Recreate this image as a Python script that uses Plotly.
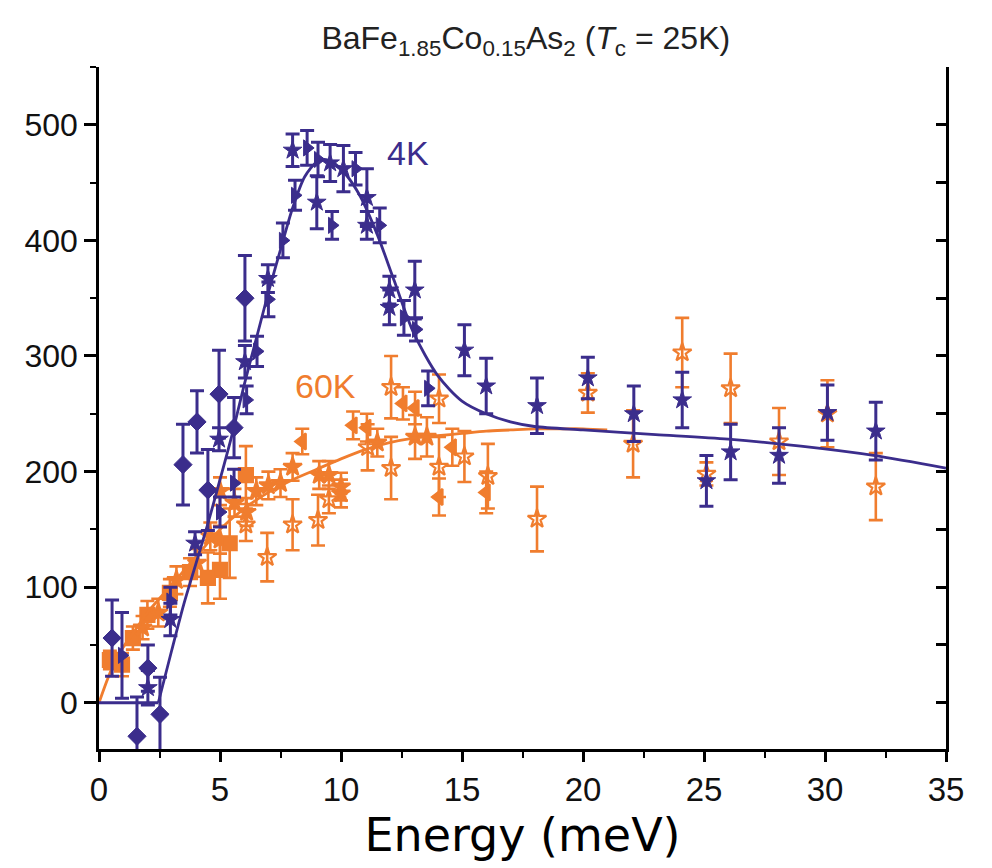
import plotly.graph_objects as go

BLUE = "#3b2d8c"
ORANGE = "#f07d2e"

# ---- 4K data (energy meV, intensity, error, marker) ----
k4_x = [0.54, 0.95, 1.57, 2.02, 2.02, 2.52, 2.95, 2.95, 3.47, 3.97, 4.05, 4.5, 4.96, 4.96, 5.0,
        5.58, 5.58, 6.03, 6.03, 6.1, 6.53, 6.98, 7.0, 7.6, 8.0, 8.1, 8.6, 9.0, 9.05, 9.55,
        9.63, 10.1, 10.6, 11.07, 11.07, 11.6, 12.0, 12.0, 12.6, 13.05, 13.1, 13.6, 15.1, 16.0,
        18.1, 20.2, 22.1, 24.1, 25.1, 26.1, 28.1, 30.1, 32.1]
k4_y = [56, 41, -29, 30, 13, -10, 88, 72, 206, 138, 243, 184, 267, 228, 165,
        238, 190, 350, 295, 262, 304, 367, 349, 400, 478, 439, 480, 433, 470, 467,
        413, 462, 462, 437, 413, 413, 357, 342, 333, 357, 323, 272, 305, 274,
        257, 281, 250, 262, 192, 217, 214, 251, 235]
k4_err = [33, 37, 34, 20, 15, 32, 12, 14, 35, 10, 27, 35, 38, 10, 13,
          26, 12, 37, 14, 12, 13, 12, 15, 15, 14, 13, 15, 23, 15, 16,
          12, 20, 14, 25, 12, 15, 12, 15, 15, 25, 10, 15, 22, 24,
          24, 18, 24, 24, 22, 24, 24, 24, 25]
k4_sym = ["diamond", "triangle-right", "diamond", "diamond", "star", "diamond", "triangle-right", "star",
          "diamond", "star", "diamond", "diamond", "diamond", "star", "triangle-right",
          "diamond", "triangle-right", "diamond", "star", "triangle-right", "triangle-right", "star",
          "triangle-right", "triangle-right", "star", "triangle-right", "triangle-right", "star",
          "triangle-right", "star", "triangle-right", "star", "triangle-right", "star", "star",
          "triangle-right", "star", "star", "triangle-right", "star", "triangle-right", "triangle-right",
          "star", "star", "star", "star", "star", "star", "star", "star", "star", "star", "star"]

# ---- 60K data ----
k60_x = [0.45, 0.95, 1.4, 1.8, 2.0, 2.45, 2.93, 3.2, 3.76, 4.05, 4.5, 4.6, 5.0, 5.0, 5.0,
         5.4, 5.6, 6.07, 6.07, 6.1, 6.5, 6.95, 7.0, 7.5, 8.0, 8.0, 8.4, 9.05, 9.1, 9.5,
         9.5, 10.0, 10.0, 10.5, 11.07, 11.1, 11.5, 12.07, 12.07, 12.56, 13.06, 13.06, 13.55,
         14.05, 14.05, 14.05, 14.6, 15.1, 16.07, 16.0, 18.1, 20.2, 22.07, 24.1, 25.1, 26.1,
         28.1, 30.1, 32.1]
k60_y = [37, 33, 56, 65, 76, 78, 95, 106, 113, 121, 108, 144, 115, 141, 183,
         138, 173, 154, 197, 165, 183, 126, 188, 190, 204, 154, 226, 158, 197, 197,
         176, 187, 181, 240, 238, 221, 225, 273, 203, 259, 255, 230, 230,
         263, 204, 178, 221, 213, 196, 182, 159, 268, 224, 303, 198, 272,
         226, 250, 187]
k60_err = [8, 10, 10, 10, 12, 12, 12, 12, 12, 12, 22, 12, 25, 12, 12,
           30, 12, 14, 25, 12, 12, 21, 12, 12, 12, 22, 11, 22, 12, 12,
           12, 12, 12, 12, 12, 20, 12, 27, 27, 14, 14, 19, 17,
           21, 26, 16, 16, 22, 28, 18, 28, 17, 29, 30, 10, 30,
           29, 29, 29]
k60_sym = ["square", "square", "square", "star", "square", "star", "square", "star", "square", "star",
           "square", "star", "square", "star", "star", "square", "star", "star-open", "square", "star",
           "star", "star-open", "star", "star", "star", "star-open", "triangle-left", "star-open", "star",
           "star", "star-open", "star", "star", "triangle-left", "triangle-left", "star-open", "star",
           "star-open", "star-open", "triangle-left", "triangle-left", "star", "star",
           "star-open", "star-open", "triangle-left", "triangle-left", "star-open", "star-open",
           "triangle-left", "star-open", "star-open", "star-open", "star-open", "star-open", "star-open",
           "star-open", "star-open", "star-open"]

# ---- fit curves ----
fit4_x = [0, 2.45, 3.0, 3.5, 4.0, 4.5, 5.0, 5.5, 6.0, 6.5, 7.0, 7.5, 8.0, 8.5, 9.0, 9.3, 9.7, 10.2,
          10.8, 11.5, 12.2, 13.0, 14.0, 15.0, 16.0, 17.0, 18.0, 20.0, 23.0, 26.0, 29.0, 32.0, 35.0]
fit4_y = [0, 0, 45, 85, 120, 155, 193, 232, 275, 315, 355, 392, 428, 455, 468, 470, 467, 457,
          438, 405, 365, 320, 283, 261, 250, 243, 239, 236, 232, 228, 222, 214, 203]
fit60_x = [0, 0.5, 1, 1.5, 2, 3, 4, 5, 6, 7, 8, 9, 10, 11, 12, 13, 14, 15, 16, 17, 18, 19, 20, 21]
fit60_y = [0, 28, 48, 63, 78, 102, 126, 150, 168, 182, 193, 202, 211, 219, 225, 229, 231, 233,
           235, 236, 237, 237, 237, 236]

x_ticks = [0, 5, 10, 15, 20, 25, 30, 35]
y_ticks = [0, 100, 200, 300, 400, 500]

fig = go.Figure()

fig.add_trace(go.Scatter(
    x=k60_x, y=k60_y, mode="markers",
    error_y=dict(type="data", array=k60_err, color=ORANGE, thickness=2.6, width=7),
    marker=dict(symbol=k60_sym, size=14, color=ORANGE, line=dict(color=ORANGE, width=2.2)),
    showlegend=False, cliponaxis=True))
fig.add_trace(go.Scatter(
    x=fit60_x, y=fit60_y, mode="lines", line=dict(color=ORANGE, width=2.8, shape="spline", smoothing=0.8),
    showlegend=False))
fig.add_trace(go.Scatter(
    x=fit4_x[:2], y=fit4_y[:2], mode="lines", line=dict(color=BLUE, width=2.8),
    showlegend=False))
fig.add_trace(go.Scatter(
    x=fit4_x[1:], y=fit4_y[1:], mode="lines", line=dict(color=BLUE, width=2.8, shape="spline", smoothing=0.8),
    showlegend=False))
fig.add_trace(go.Scatter(
    x=k4_x, y=k4_y, mode="markers",
    error_y=dict(type="data", array=k4_err, color=BLUE, thickness=3, width=7),
    marker=dict(symbol=k4_sym, size=14, color=BLUE, line=dict(color=BLUE, width=1)),
    showlegend=False, cliponaxis=True))

# right axis ticks (inside) via overlaying axis
fig.add_trace(go.Scatter(x=[0], y=[0], yaxis="y2", mode="markers", marker=dict(opacity=0), showlegend=False, hoverinfo="skip"))

fig.add_annotation(x=12.77, y=476, text="4K", showarrow=False,
                   font=dict(family="Liberation Sans, Arial", size=34, color=BLUE))
fig.add_annotation(x=9.34, y=274, text="60K", showarrow=False,
                   font=dict(family="Liberation Sans, Arial", size=34, color=ORANGE))

fig.update_layout(
    width=992, height=868,
    margin=dict(l=99, r=46, t=67, b=119),
    paper_bgcolor="white", plot_bgcolor="white",
    title=dict(text="BaFe<sub>1.85</sub>Co<sub>0.15</sub>As<sub>2</sub> (<i>T</i><sub>c</sub> = 25K)",
               x=0.53, xanchor="center", y=0.956, yanchor="middle", yref="container",
               font=dict(family="Liberation Sans, Arial", size=32, color="#222")),
    xaxis=dict(range=[0, 35], tickvals=x_ticks, ticktext=[str(v) for v in x_ticks],
               showgrid=False, zeroline=False, showline=True, linecolor="black", linewidth=2.5,
               ticks="outside", ticklen=10, tickwidth=2.5, tickcolor="black",
               minor=dict(dtick=2.5, ticks="outside", ticklen=6, tickwidth=2, tickcolor="black"),
               tickfont=dict(family="Liberation Sans Narrow, Liberation Sans, Arial", size=33, color="#111"),
               title=dict(text="Energy (meV)", standoff=12,
                          font=dict(family="DejaVu Sans", size=46, color="black"))),
    yaxis=dict(range=[-40, 550], tickvals=y_ticks, ticktext=[str(v) for v in y_ticks],
               showgrid=False, zeroline=False, showline=True, linecolor="black", linewidth=2.5,
               ticks="outside", ticklen=12, tickwidth=2.5, tickcolor="black",
               minor=dict(dtick=50, ticks="outside", ticklen=6, tickwidth=2, tickcolor="black"),
               tickfont=dict(family="Liberation Sans, Arial", size=32, color="#111")),
    yaxis2=dict(range=[-40, 550], overlaying="y", side="right", showgrid=False, zeroline=False,
                showline=True, linecolor="black", linewidth=2.5, ticks="inside", ticklen=10,
                tickwidth=2.5, tickcolor="black", dtick=50, tick0=0, showticklabels=False),
)

fig.write_html("out.html")
